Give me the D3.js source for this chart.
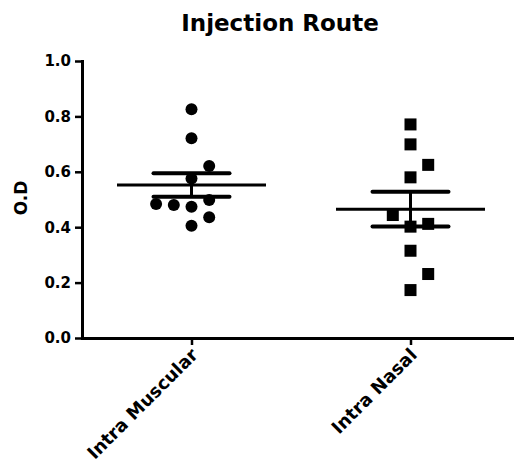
<!DOCTYPE html>
<html>
<head>
<meta charset="utf-8">
<script src="https://cdn.jsdelivr.net/npm/d3@7"></script>
<style>
  body { margin: 0; background: #fff; }
  text { font-family: "DejaVu Sans", sans-serif; font-weight: bold; fill: #000; }
</style>
</head>
<body>
<svg id="chart" width="514" height="464"></svg>
<script>
// groups on the x axis
var groups = ['Intra Muscular', 'Intra Nasal'];
// O.D readings per group
var intraMuscular = [0.826, 0.721, 0.621, 0.576, 0.498, 0.484, 0.480, 0.474, 0.436, 0.405];
var intraNasal = [0.771, 0.699, 0.625, 0.580, 0.444, 0.412, 0.402, 0.315, 0.231, 0.173];
var yTicks = [0, 0.2, 0.4, 0.6, 0.8, 1.0];

var svg = d3.select('#chart');

var x = d3.scalePoint().domain(groups).range([82, 520]).padding(0.5);
var y = d3.scaleLinear().domain([0, 1]).range([338, 61]);

var series = [
  {name: groups[0], values: intraMuscular, shape: 'circle'},
  {name: groups[1], values: intraNasal, shape: 'square'}
];

// simple beeswarm: stack colliding points into side slots
function swarm(values) {
  var slots = [0, 1, -1, -2, 2, -3, 3];
  var placed = [];
  values.slice().sort(d3.ascending).forEach(function(v) {
    for (var i = 0; i < slots.length; i++) {
      var s = slots[i];
      var clash = placed.some(function(p) {
        return p.slot == s && Math.abs(y(p.v) - y(v)) < 17;
      });
      if (!clash) { placed.push({v: v, slot: s}); break; }
    }
  });
  return placed;
}

var spacing = 17.7;

// title
svg.append('text')
  .attr('x', 280).attr('y', 31)
  .attr('text-anchor', 'middle')
  .style('font-size', '23px')
  .text('Injection Route');

// y axis label
svg.append('text')
  .attr('transform', 'translate(27,198) rotate(-90)')
  .attr('text-anchor', 'middle')
  .style('font-size', '17px')
  .text('O.D');

// points
series.forEach(function(s) {
  var cx = x(s.name);
  var pts = swarm(s.values);
  var g = svg.append('g');
  if (s.shape == 'circle') {
    g.selectAll('circle').data(pts).enter().append('circle')
      .attr('cx', function(d) { return cx + d.slot * spacing; })
      .attr('cy', function(d) { return y(d.v); })
      .attr('r', 6)
      .attr('fill', '#000');
  } else {
    g.selectAll('rect').data(pts).enter().append('rect')
      .attr('x', function(d) { return cx + d.slot * spacing - 6; })
      .attr('y', function(d) { return y(d.v) - 6; })
      .attr('width', 12).attr('height', 12)
      .attr('fill', '#000');
  }

  // mean and SEM
  var m = d3.mean(s.values);
  var sem = d3.deviation(s.values) / Math.sqrt(s.values.length);
  g.append('line')
    .attr('x1', cx - 74.5).attr('x2', cx + 74.5)
    .attr('y1', y(m)).attr('y2', y(m))
    .attr('stroke', '#000').attr('stroke-width', 3);
  g.append('line')
    .attr('x1', cx).attr('x2', cx)
    .attr('y1', y(m + sem)).attr('y2', y(m - sem))
    .attr('stroke', '#000').attr('stroke-width', 3);
  [m + sem, m - sem].forEach(function(v) {
    g.append('line')
      .attr('x1', cx - 38).attr('x2', cx + 38)
      .attr('y1', y(v)).attr('y2', y(v))
      .attr('stroke', '#000').attr('stroke-width', 4)
      .attr('stroke-linecap', 'round');
  });
});

// axes
var yAxis = svg.append('g')
  .attr('transform', 'translate(82,0)')
  .call(d3.axisLeft(y).tickValues(yTicks).tickFormat(d3.format('.1f')).tickSize(7).tickSizeOuter(0).tickPadding(4));
yAxis.selectAll('text').style('font-size', '15px');

var xAxis = svg.append('g')
  .attr('transform', 'translate(0,338)')
  .call(d3.axisBottom(x).tickSize(7).tickSizeOuter(0));
xAxis.selectAll('text')
  .style('font-size', '18px')
  .attr('x', 0).attr('y', 0).attr('dy', 0)
  .attr('text-anchor', 'end')
  .attr('transform', 'translate(7,18) rotate(-45)');

svg.selectAll('.domain').attr('stroke', '#000').attr('stroke-width', 3).attr('stroke-linecap', 'square');
svg.selectAll('.tick line').attr('stroke', '#000').attr('stroke-width', 2.5);
svg.selectAll('.tick text').attr('fill', '#000').attr('font-family', null);
</script>
</body>
</html>
